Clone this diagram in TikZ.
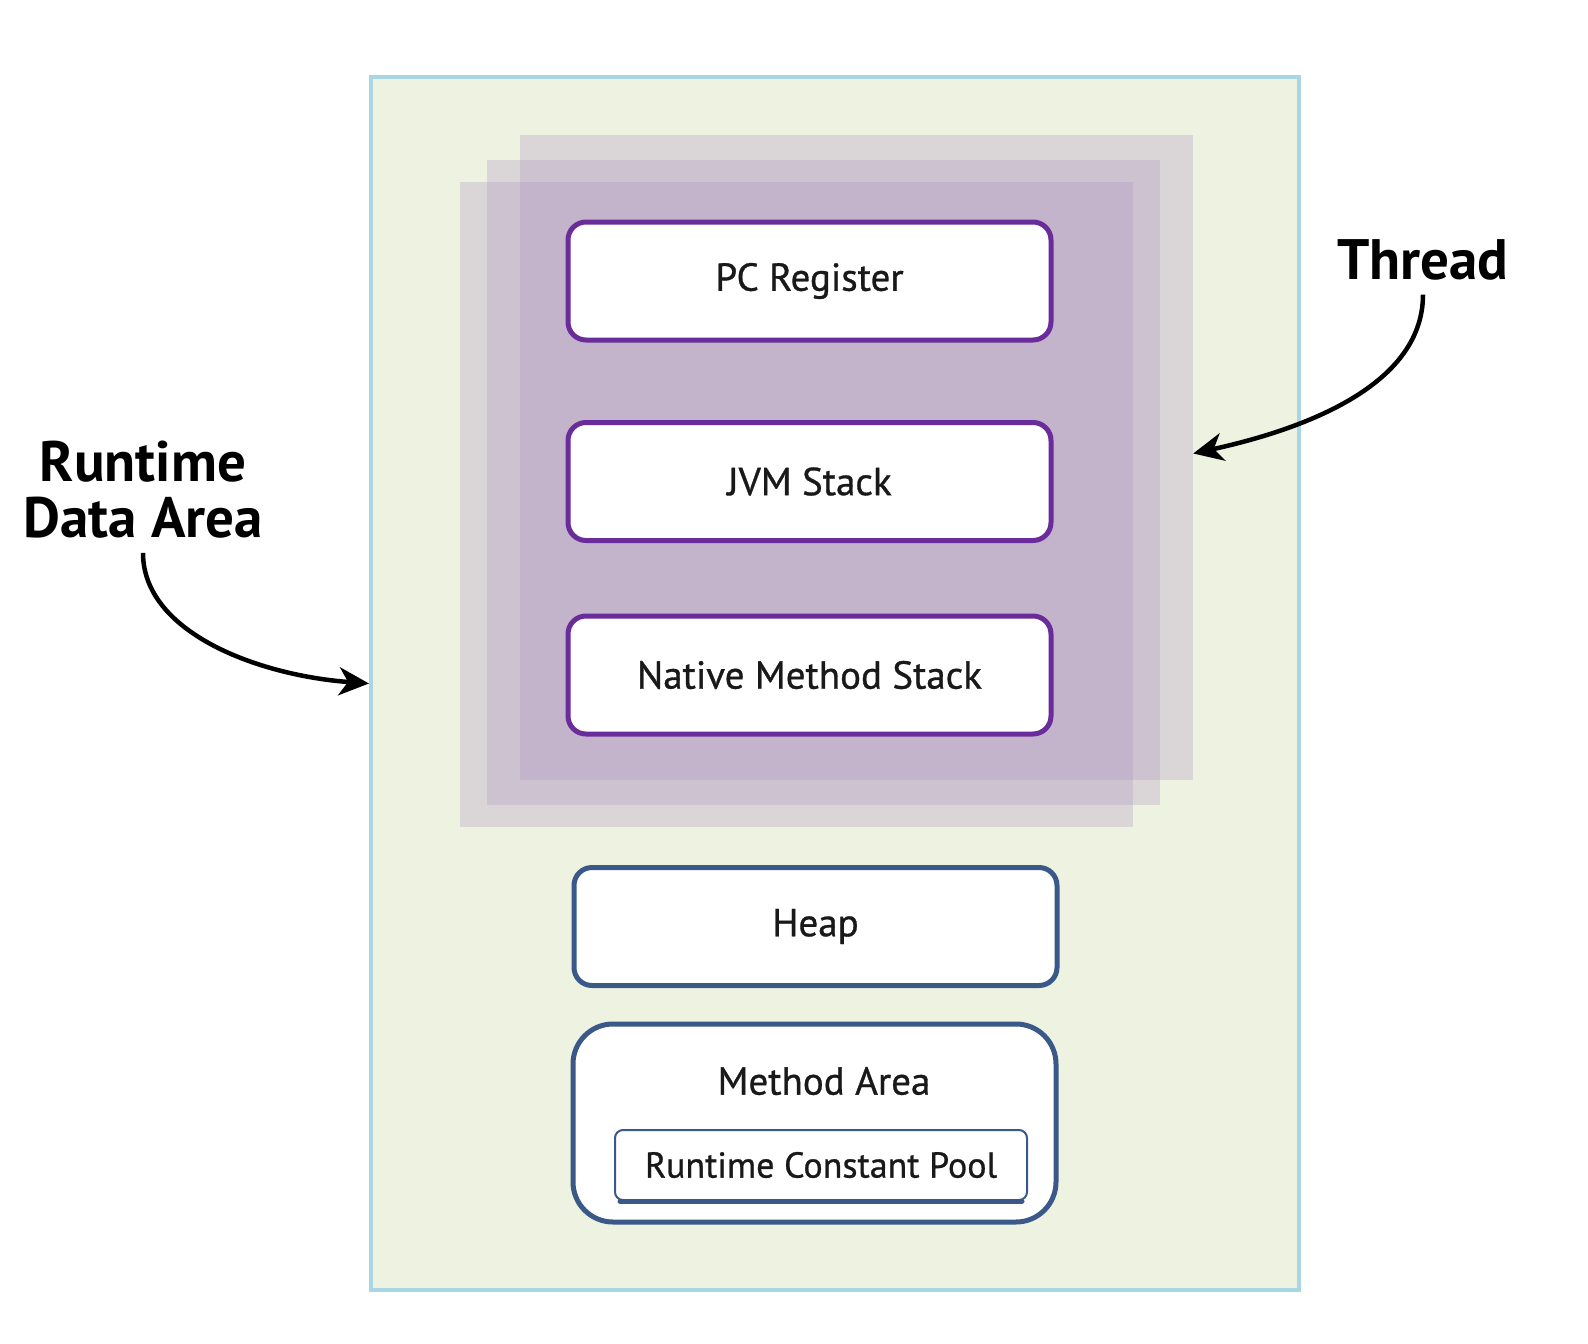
\documentclass[tikz,border=0pt]{standalone}
\usepackage{fontspec}
\setmainfont{PT Sans}
\newfontfamily\boxfont{PT Sans}[BoldFont={PT Sans}, BoldFeatures={FakeBold=0.8}]
\usepackage{tikz}
\usetikzlibrary{arrows.meta, positioning}
\usepackage{xcolor}
\definecolor{areagreen}{RGB}{237, 242, 225}
\definecolor{areablue}{RGB}{168, 214, 226}
\definecolor{threadtint}{RGB}{175, 150, 195}
\definecolor{stackpurple}{RGB}{106, 44, 154}
\definecolor{heapblue}{RGB}{58, 88, 136}

\begin{document}
\begin{tikzpicture}[x=1pt, y=-1pt,
    box/.style={draw, fill=white, rounded corners=18pt, line width=5pt,
      minimum width=483pt, minimum height=118pt, inner sep=0pt,
      text=black!90, font=\fontsize{39}{46}\boxfont\bfseries},
    stackbox/.style={box, draw=stackpurple},
    sharedbox/.style={box, draw=heapblue},
    layer/.style={fill=threadtint, fill opacity=0.3, inner sep=0pt,
      minimum width=673pt, minimum height=645pt},
    callout/.style={font=\fontsize{57}{56}\selectfont\bfseries,
      align=center, inner sep=14pt},
    pointer/.style={-{Stealth[length=30pt, width=28pt, inset=9pt]},
      line width=4.5pt}]
    \useasboundingbox (0,0) rectangle (1588,1344);

    % runtime data area
    \node[draw=areablue, fill=areagreen, line width=4pt, inner sep=0pt,
          minimum width=928pt, minimum height=1213pt] (area) at (835,683.5) {};

    % per-thread layers
    \node[layer] (thread3) at (856.5,457.5) {};
    \node[layer] (thread2) at (823.5,482.5) {};
    \node[layer] (thread1) at (796.5,504.5) {};

    \node[stackbox] (pc) at (809.5,281) {PC Register};
    \node[stackbox] (jvm) at (809.5,481.5) {JVM Stack};
    \node[stackbox] (native) at (809.5,675) {Native Method Stack};

    % shared areas
    \node[sharedbox] (heap) at (815.5,926.5) {Heap};
    \node[sharedbox, minimum height=198pt, rounded corners=40pt] (method) at (814.5,1123) {};
    \node[font=\fontsize{39}{46}\boxfont\bfseries, text=black!90] (methodname) at (824,1081) {Method Area};
    \node[draw=heapblue, line width=2pt, rounded corners=8pt, inner sep=0pt,
          minimum width=412pt, minimum height=70pt, text=black!90,
          font=\fontsize{36}{42}\boxfont\bfseries] (pool) at (821,1165) {Runtime Constant Pool};
    \draw[heapblue, line width=5pt, line cap=round] ([xshift=6pt]pool.south west) -- ([xshift=-6pt]pool.south east);

    % callouts
    \node[callout] (rda) at (143,490) {Runtime\\Data Area};
    \node[callout] (thread) at (1423,260) {Thread};
    \draw[pointer] (rda.south) .. controls +(0,80) and +(-110,-8) .. (area.west);
    \draw[pointer] (thread.south) .. controls +(0,95) and +(100,-22) .. ([yshift=4pt]thread3.east);
\end{tikzpicture}
\end{document}
